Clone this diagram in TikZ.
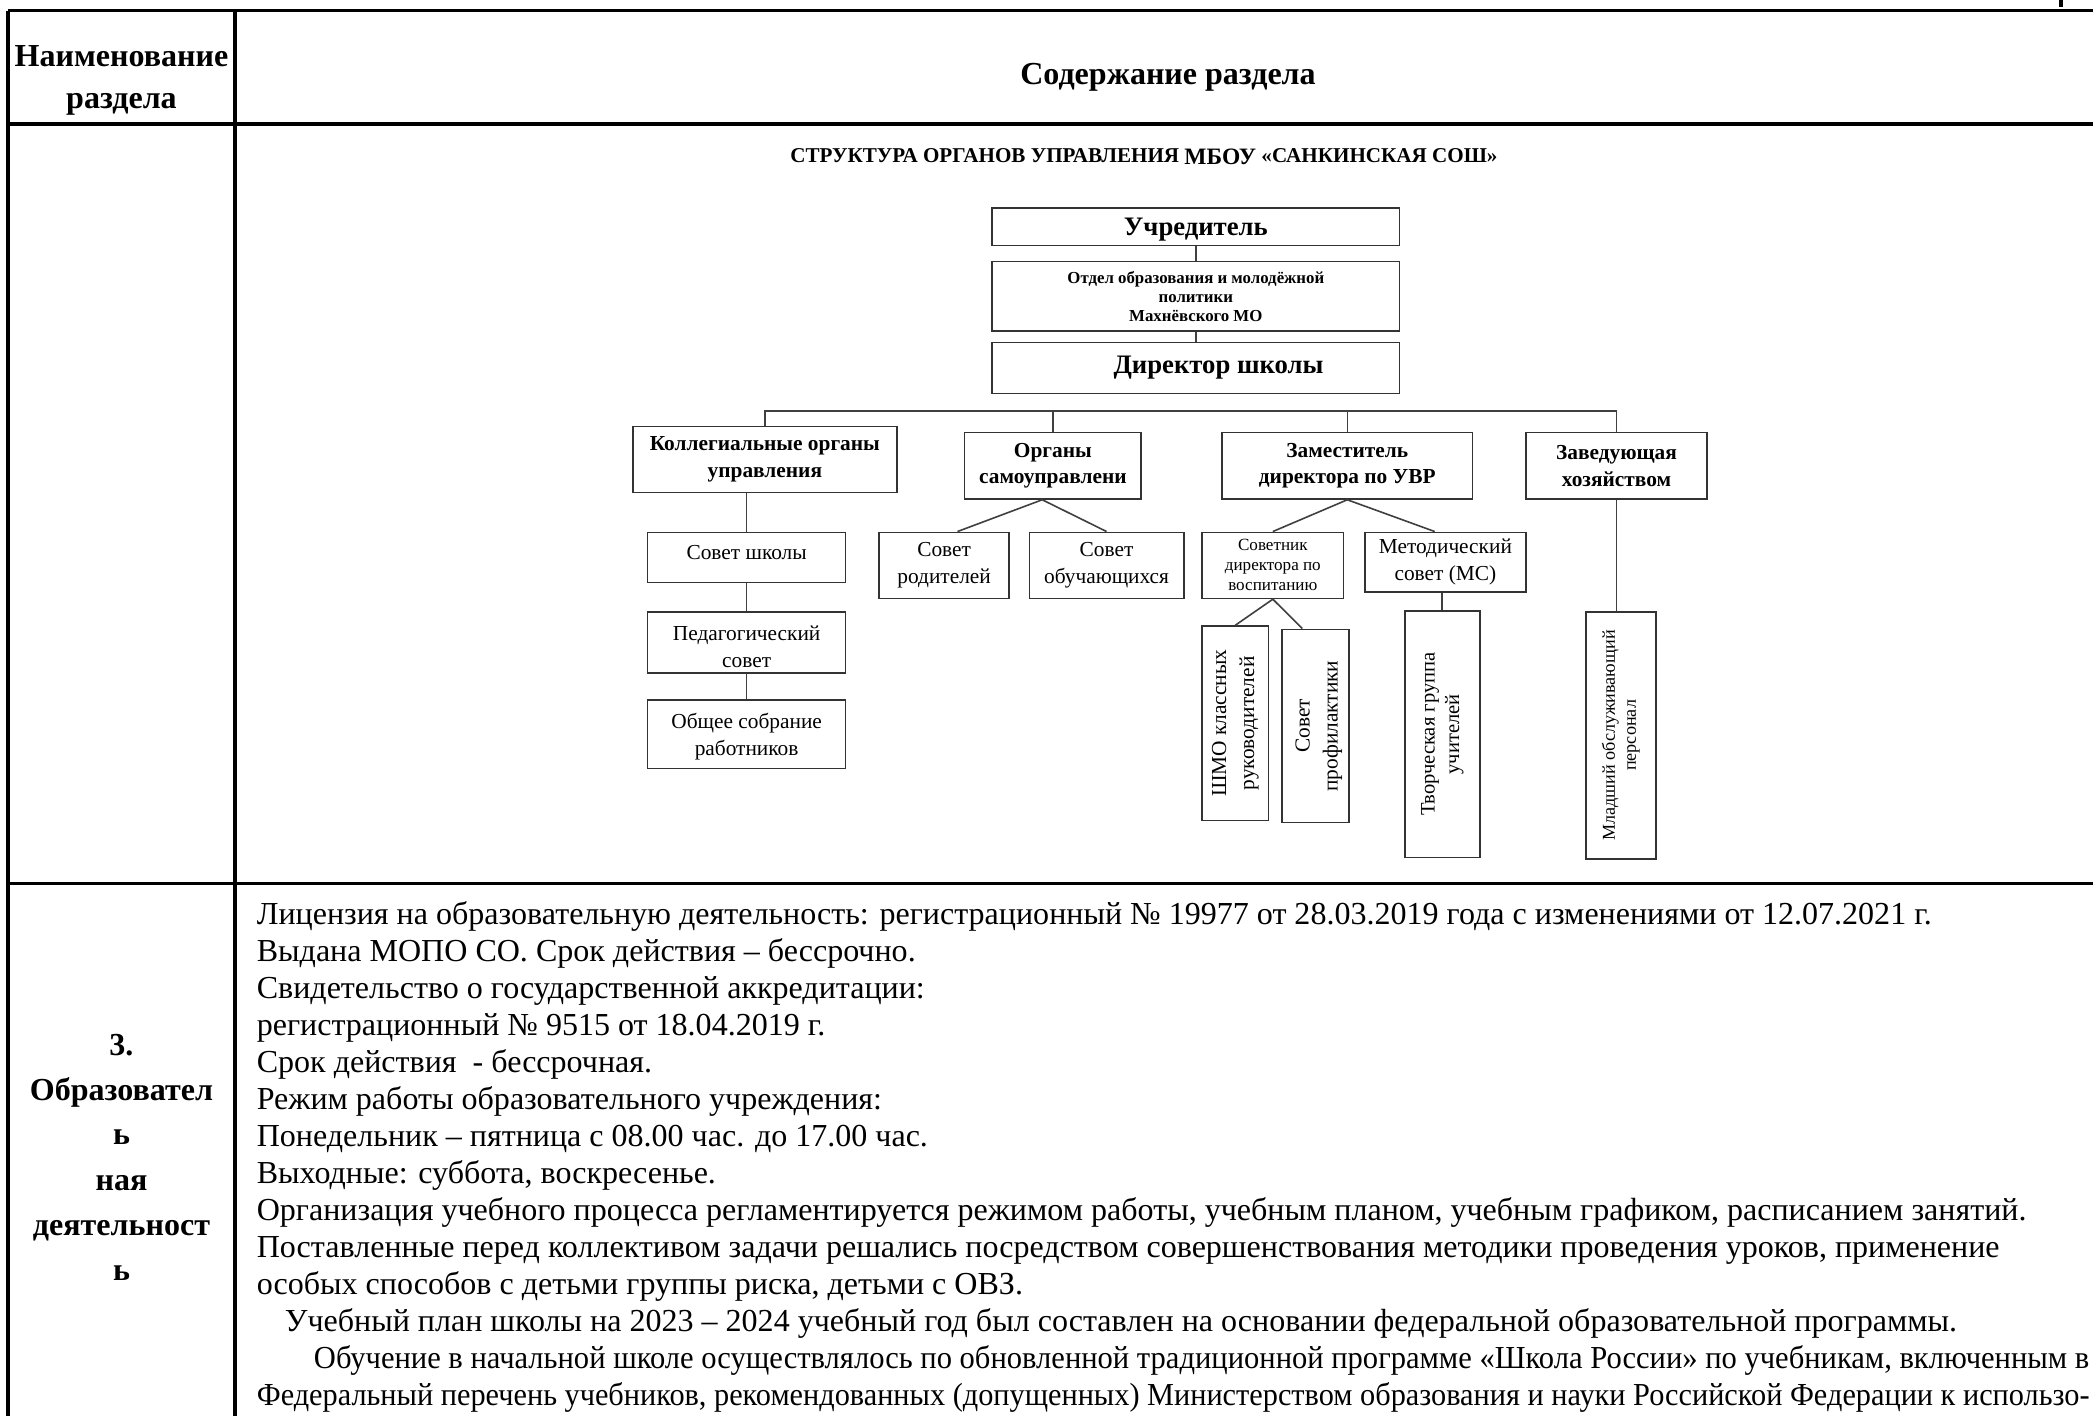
\documentclass[tikz,border=0pt]{standalone}
\usepackage{graphicx}
\usepackage{fontspec}
\setmainfont{Liberation Serif}
\usetikzlibrary{fit}
\begin{document}
\begin{tikzpicture}[x=0.5pt,y=-0.5pt,
  tline/.style={line width=1.2pt, black},
  cbx/.style={draw=black!80, line width=0.6pt, inner sep=0pt},
  lbl/.style={anchor=center, align=center, inner sep=0pt},
  conn/.style={draw=black!75, line width=0.6pt},
  body/.style={anchor=mid west, inner sep=0pt, font=\fontsize{12}{13.8}\selectfont},
  lhead/.style={anchor=mid, inner sep=0pt, font=\fontsize{12}{13.8}\selectfont\bfseries},
  b0/.style={font=\fontsize{10}{12}\selectfont\bfseries},
  b1/.style={font=\fontsize{8}{10}\selectfont\bfseries},
  bs/.style={font=\fontsize{6.3}{7.2}\selectfont\bfseries},
  r2/.style={font=\fontsize{8}{10.2}\selectfont},
  rs/.style={font=\fontsize{6.4}{7.5}\selectfont},
  vt/.style={rotate=90, align=center, inner sep=0pt},
]
\useasboundingbox (0,0) rectangle (1568,1061);
% table rules
\draw[tline] (6,8) -- (1568,8);
\draw[tline, line width=1.4pt] (6,93) -- (1568,93);
\draw[tline] (6,662) -- (1568,662);
\draw[tline] (6,8) -- (6,1061);
\draw[tline] (176,8) -- (176,1061);
\draw[line width=1.2pt] (1544,0) -- (1544,5);
% header
\node[lhead] (h1a) at (91,45) {Наименование};
\node[lhead] (h1b) at (91,77) {раздела};
\node[lhead] (h2) at (875,59) {Содержание раздела};
% left column row 3
\node[lhead] (s1) at (91,786) {3.};
\node[lhead] (s2) at (91,820) {Образовател};
\node[lhead] (s3) at (91,853) {ь};
\node[lhead] (s4) at (91,887) {ная};
\node[lhead] (s5) at (91,921) {деятельност};
\node[lhead] (s6) at (91,955) {ь};
% body text
\node[body] (t1) at (192,688) {Лицензия на образовательную деятельность: регистрационный № 19977 от 28.03.2019 года с изменениями от 12.07.2021 г.};
\node[body] (t2) at (192,715.7) {Выдана МОПО СО. Срок действия – бессрочно.};
\node[body] (t3) at (192,743.4) {Свидетельство о государственной аккредитации:};
\node[body] (t4) at (192,771.1) {регистрационный № 9515 от 18.04.2019 г.};
\node[body] (t5) at (192,798.8) {Срок действия \ - бессрочная.};
\node[body] (t6) at (192,826.5) {Режим работы образовательного учреждения:};
\node[body] (t7) at (192,854.2) {Понедельник – пятница с 08.00 час. до 17.00 час.};
\node[body] (t8) at (192,881.9) {Выходные: суббота, воскресенье.};
\node[body] (t9) at (192,909.6) {Организация учебного процесса регламентируется режимом работы, учебным планом, учебным графиком, расписанием занятий.};
\node[body] (t10) at (192,937.3) {Поставленные перед коллективом задачи решались посредством совершенствования методики проведения уроков, применение};
\node[body] (t11) at (192,965) {особых способов с детьми группы риска, детьми с ОВЗ.};
\node[body] (t12) at (213,992.7) {Учебный план школы на 2023 – 2024 учебный год был составлен на основании федеральной образовательной программы.};
\node[body] (t13) at (234.8,1020.4) {\resizebox{665pt}{\height}{Обучение в начальной школе осуществлялось по обновленной традиционной программе «Школа России» по учебникам, включенным в}};
\node[body] (t14) at (192,1048.1) {\resizebox{686.5pt}{\height}{Федеральный перечень учебников, рекомендованных (допущенных) Министерством образования и науки Российской Федерации к использо-}};
% chart title
\node[anchor=mid, inner sep=0pt, font=\fontsize{7.9}{9}\selectfont\bfseries] (title) at (857,117) {СТРУКТУРА ОРГАНОВ УПРАВЛЕНИЯ \raisebox{-0.8pt}{\fontsize{8.8}{9}\selectfont МБОУ} «САНКИНСКАЯ СОШ»};
% chart boxes
\node[cbx, fit={(743.2,155.6) (1048.5,184.0)}] (ucr) {};
\node[cbx, fit={(743.2,196) (1048.5,248)}] (otd) {};
\node[cbx, fit={(743.2,256.5) (1048.5,294.7)}] (dir) {};
\node[cbx, fit={(474,319.6) (672,369.1)}] (koll) {};
\node[cbx, fit={(722.6,324.1) (855,373.8)}] (org) {};
\node[cbx, fit={(915.6,324.1) (1103.1,373.8)}] (zam) {};
\node[cbx, fit={(1143,324.1) (1279,373.8)}] (zav) {};
\node[cbx, fit={(485.2,398.8) (633.5,436.5)}] (sovsh) {};
\node[cbx, fit={(485.2,458.3) (633.5,504.4)}] (ped) {};
\node[cbx, fit={(485.2,524.4) (633.5,575.6)}] (obsh) {};
\node[cbx, fit={(658.7,398.8) (755.9,448.3)}] (rod) {};
\node[cbx, fit={(771.2,398.8) (886.8,448.3)}] (obu) {};
\node[cbx, fit={(900.5,398.8) (1006.6,448.3)}] (sovdir) {};
\node[cbx, fit={(1022.4,398.8) (1143.3,443.3)}] (met) {};
\node[cbx, fit={(900.5,469) (950.4,614.8)}] (shmo) {};
\node[cbx, fit={(960.4,471.5) (1010.8,616.3)}] (prof) {};
\node[cbx, fit={(1052.4,457.8) (1108.6,642.3)}] (tvor) {};
\node[cbx, fit={(1188,458.3) (1240.5,643.5)}] (mlad) {};
% chart labels
\node[lbl, b0] (ucrt) at ([yshift=-1pt]ucr.center) {Учредитель};
\node[lbl, bs] (otdt) at (otd.center) {Отдел образования и молодёжной\\политики\\Махнёвского МО};
\node[lbl, b0] (dirt) at ([xshift=8.5pt]dir.center) {Директор школы};
\node[lbl, b1] (kollt) at (koll.center) {Коллегиальные органы\\управления};
\node[lbl, b1] (orgt) at (org.center) {Органы\\самоуправлени};
\node[lbl, b1] (zamt) at (zam.center) {Заместитель\\директора по УВР};
\node[lbl, b1] (zavt) at (zav.center) {Заведующая\\хозяйством};
\node[lbl, r2] (sovsht) at ([yshift=2pt]sovsh.center) {Совет школы};
\node[lbl, r2] (pedt) at ([yshift=-1.5pt]ped.center) {Педагогический\\совет};
\node[lbl, r2] (obsht) at ([yshift=-1pt]obsh.center) {Общее собрание\\работников};
\node[lbl, r2] (rodt) at (rod.center) {Совет\\родителей};
\node[lbl, r2] (obut) at (obu.center) {Совет\\обучающихся};
\node[lbl, rs] (sovdirt) at (sovdir.center) {Советник\\директора по\\воспитанию};
\node[lbl, r2] (mett) at (met.center) {Методический\\совет (МС)};
\node[vt, font=\fontsize{8}{10.5}\selectfont] (shmot) at (shmo.center) {ШМО классных\\руководителей};
\node[vt, font=\fontsize{8}{10.5}\selectfont] (proft) at ([xshift=1.2pt]prof.center) {Совет\\профилактики};
\node[vt, font=\fontsize{7.7}{9.2}\selectfont] (tvort) at (tvor.center) {Творческая группа\\учителей};
\node[vt, font=\fontsize{6.8}{7.9}\selectfont] (mladt) at (mlad.center) {Младший обслуживающий\\персонал};
% connectors
\coordinate (bus) at (0,307.9);
\draw[conn] (ucr.south) -- (otd.north);
\draw[conn] (otd.south) -- (dir.north);
\draw[conn] (koll.north) -- (koll.north |- bus) -- (zav.north |- bus) -- (zav.north);
\draw[conn] (org.north) -- (org.north |- bus);
\draw[conn] (zam.north) -- (zam.north |- bus);
\draw[conn] (sovsh.north) -- (sovsh.north |- koll.south);
\draw[conn] (sovsh.south) -- (ped.north);
\draw[conn] (ped.south) -- (obsh.north);
\draw[conn] ([xshift=5pt]rod.north) -- ([xshift=-4pt]org.south) -- (obu.north);
\draw[conn] (sovdir.north) -- (zam.south) -- ([xshift=-4pt]met.north);
\draw[conn] (shmo.north) -- (sovdir.south) -- ([xshift=-5pt]prof.north);
\draw[conn] (tvor.north) -- (tvor.north |- met.south);
\draw[conn] (zav.south) -- (zav.south |- mlad.north);
\end{tikzpicture}
\end{document}
